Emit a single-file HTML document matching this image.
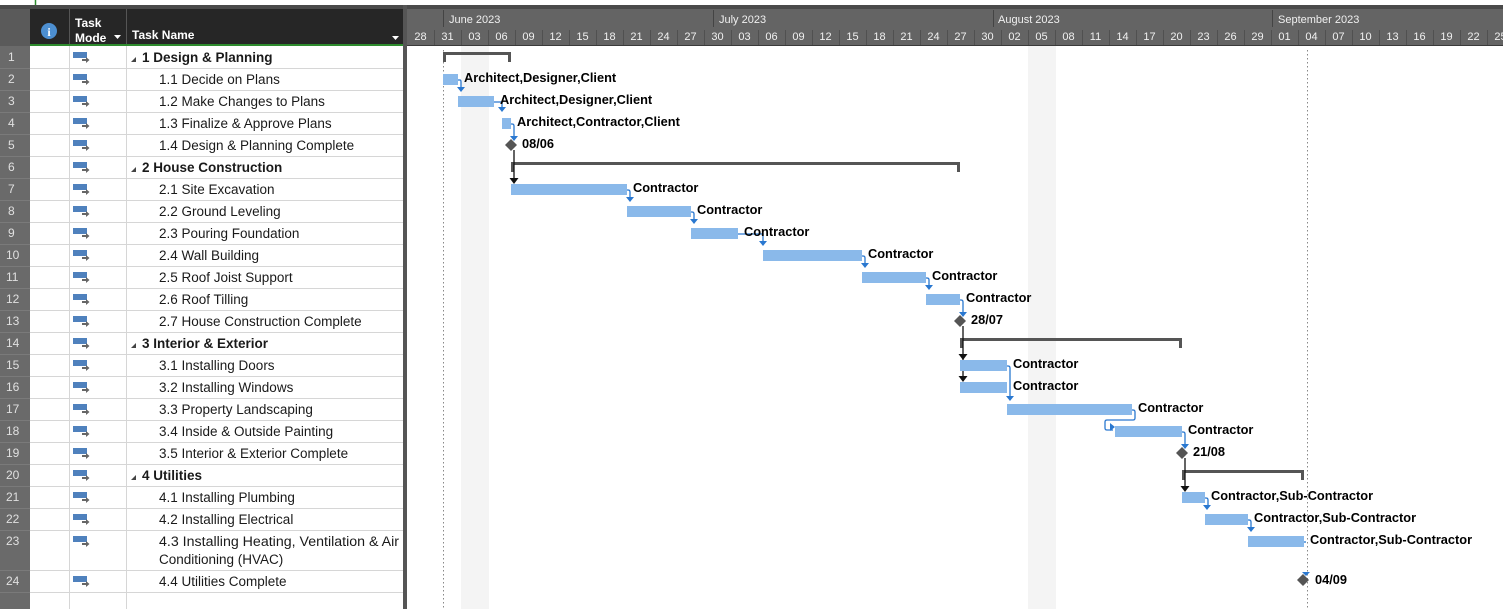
<!DOCTYPE html>
<html><head><meta charset="utf-8"><style>
html,body{margin:0;padding:0;background:#fff;}
svg{display:block;font-family:"Liberation Sans",sans-serif;}
.g{font-size:13.5px;fill:#1a1a1a;}
.b{font-weight:bold;}
.rn{font-size:12px;fill:#e0e0e0;}
.ts{font-size:11px;fill:#f0f0f0;}
.lb{font-size:12.8px;font-weight:bold;fill:#000;}
.bar{fill:#8ab9ea;}
.c{stroke:#2a78d0;stroke-width:1.3;fill:none;}
.ca{fill:#2a78d0;}
.k{stroke:#111;stroke-width:1.3;fill:none;}
</style></head><body>
<svg width="1503" height="609" viewBox="0 0 1503 609" xmlns="http://www.w3.org/2000/svg">
<rect x="0" y="0" width="1503" height="609" fill="#fff"/>
<line x1="35.5" y1="0" x2="35.5" y2="6" stroke="#2e8b2e" stroke-width="1.5"/>
<rect x="0" y="5" width="1503" height="4" fill="#4a4a4a"/>
<rect x="0" y="9" width="406" height="37" fill="#262626"/>
<rect x="0" y="9" width="30" height="37" fill="#5a5a5a"/>
<line x1="69.5" y1="9" x2="69.5" y2="46" stroke="#555"/>
<line x1="126.5" y1="9" x2="126.5" y2="46" stroke="#555"/>
<line x1="30" y1="45" x2="403" y2="45" stroke="#2e8b2e" stroke-width="2"/>
<circle cx="49" cy="31" r="8" fill="#4d8fd1"/>
<text x="49" y="36" font-size="12" font-weight="bold" fill="#fff" text-anchor="middle" font-family="Liberation Serif">i</text>
<text x="75" y="27" font-size="12" font-weight="bold" fill="#fff">Task</text>
<text x="75" y="42" font-size="12" font-weight="bold" fill="#fff">Mode</text>
<path d="M114 35 l7 0 l-3.5 4z" fill="#fff"/>
<text x="132" y="39" font-size="12" font-weight="bold" fill="#fff">Task Name</text>
<path d="M392 36 l7 0 l-3.5 4z" fill="#fff"/>
<rect x="0" y="46" width="30" height="563" fill="#6a6a6a"/>
<g stroke="#d6d6d6" stroke-width="1">
<line x1="30" y1="68.5" x2="403" y2="68.5"/><line x1="30" y1="90.5" x2="403" y2="90.5"/>
<line x1="30" y1="112.5" x2="403" y2="112.5"/><line x1="30" y1="134.5" x2="403" y2="134.5"/>
<line x1="30" y1="156.5" x2="403" y2="156.5"/><line x1="30" y1="178.5" x2="403" y2="178.5"/>
<line x1="30" y1="200.5" x2="403" y2="200.5"/><line x1="30" y1="222.5" x2="403" y2="222.5"/>
<line x1="30" y1="244.5" x2="403" y2="244.5"/><line x1="30" y1="266.5" x2="403" y2="266.5"/>
<line x1="30" y1="288.5" x2="403" y2="288.5"/><line x1="30" y1="310.5" x2="403" y2="310.5"/>
<line x1="30" y1="332.5" x2="403" y2="332.5"/><line x1="30" y1="354.5" x2="403" y2="354.5"/>
<line x1="30" y1="376.5" x2="403" y2="376.5"/><line x1="30" y1="398.5" x2="403" y2="398.5"/>
<line x1="30" y1="420.5" x2="403" y2="420.5"/><line x1="30" y1="442.5" x2="403" y2="442.5"/>
<line x1="30" y1="464.5" x2="403" y2="464.5"/><line x1="30" y1="486.5" x2="403" y2="486.5"/>
<line x1="30" y1="508.5" x2="403" y2="508.5"/><line x1="30" y1="530.5" x2="403" y2="530.5"/>
<line x1="30" y1="570.5" x2="403" y2="570.5"/><line x1="30" y1="592.5" x2="403" y2="592.5"/>
<line x1="69.5" y1="46" x2="69.5" y2="609"/><line x1="126.5" y1="46" x2="126.5" y2="609"/>
</g>
<g stroke="#7a7a7a" stroke-width="1">
<line x1="0" y1="68.5" x2="30" y2="68.5"/><line x1="0" y1="90.5" x2="30" y2="90.5"/><line x1="0" y1="112.5" x2="30" y2="112.5"/><line x1="0" y1="134.5" x2="30" y2="134.5"/><line x1="0" y1="156.5" x2="30" y2="156.5"/><line x1="0" y1="178.5" x2="30" y2="178.5"/><line x1="0" y1="200.5" x2="30" y2="200.5"/><line x1="0" y1="222.5" x2="30" y2="222.5"/><line x1="0" y1="244.5" x2="30" y2="244.5"/><line x1="0" y1="266.5" x2="30" y2="266.5"/><line x1="0" y1="288.5" x2="30" y2="288.5"/><line x1="0" y1="310.5" x2="30" y2="310.5"/><line x1="0" y1="332.5" x2="30" y2="332.5"/><line x1="0" y1="354.5" x2="30" y2="354.5"/><line x1="0" y1="376.5" x2="30" y2="376.5"/><line x1="0" y1="398.5" x2="30" y2="398.5"/><line x1="0" y1="420.5" x2="30" y2="420.5"/><line x1="0" y1="442.5" x2="30" y2="442.5"/><line x1="0" y1="464.5" x2="30" y2="464.5"/><line x1="0" y1="486.5" x2="30" y2="486.5"/><line x1="0" y1="508.5" x2="30" y2="508.5"/><line x1="0" y1="530.5" x2="30" y2="530.5"/><line x1="0" y1="570.5" x2="30" y2="570.5"/><line x1="0" y1="592.5" x2="30" y2="592.5"/>
</g>
<g class="rn">
<text x="8" y="61">1</text><text x="8" y="83">2</text><text x="8" y="105">3</text><text x="8" y="127">4</text><text x="8" y="149">5</text><text x="8" y="171">6</text><text x="8" y="193">7</text><text x="8" y="215">8</text><text x="8" y="237">9</text><text x="6" y="259">10</text><text x="6" y="281">11</text><text x="6" y="303">12</text><text x="6" y="325">13</text><text x="6" y="347">14</text><text x="6" y="369">15</text><text x="6" y="391">16</text><text x="6" y="413">17</text><text x="6" y="435">18</text><text x="6" y="457">19</text><text x="6" y="479">20</text><text x="6" y="501">21</text><text x="6" y="523">22</text><text x="6" y="545">23</text><text x="6" y="585">24</text>
</g>
<defs><g id="tm"><rect x="0" y="0" width="14" height="6" fill="#4f81bd"/><path d="M9 7 h4 v-2 l3.5 3 l-3.5 3 v-2 h-4z" fill="#666"/></g></defs>
<g>
<use href="#tm" x="73" y="52"/><use href="#tm" x="73" y="74"/><use href="#tm" x="73" y="96"/><use href="#tm" x="73" y="118"/><use href="#tm" x="73" y="140"/><use href="#tm" x="73" y="162"/><use href="#tm" x="73" y="184"/><use href="#tm" x="73" y="206"/><use href="#tm" x="73" y="228"/><use href="#tm" x="73" y="250"/><use href="#tm" x="73" y="272"/><use href="#tm" x="73" y="294"/><use href="#tm" x="73" y="316"/><use href="#tm" x="73" y="338"/><use href="#tm" x="73" y="360"/><use href="#tm" x="73" y="382"/><use href="#tm" x="73" y="404"/><use href="#tm" x="73" y="426"/><use href="#tm" x="73" y="448"/><use href="#tm" x="73" y="470"/><use href="#tm" x="73" y="492"/><use href="#tm" x="73" y="514"/><use href="#tm" x="73" y="536"/><use href="#tm" x="73" y="576"/>
</g>
<g class="g">
<path d="M131 62 l5 -5 v5z" fill="#444"/><text x="142" y="62" class="b">1 Design &amp; Planning</text>
<text x="159" y="84">1.1 Decide on Plans</text>
<text x="159" y="106">1.2 Make Changes to Plans</text>
<text x="159" y="128">1.3 Finalize &amp; Approve Plans</text>
<text x="159" y="150">1.4 Design &amp; Planning Complete</text>
<path d="M131 172 l5 -5 v5z" fill="#444"/><text x="142" y="172" class="b">2 House Construction</text>
<text x="159" y="194">2.1 Site Excavation</text>
<text x="159" y="216">2.2 Ground Leveling</text>
<text x="159" y="238">2.3 Pouring Foundation</text>
<text x="159" y="260">2.4 Wall Building</text>
<text x="159" y="282">2.5 Roof Joist Support</text>
<text x="159" y="304">2.6 Roof Tilling</text>
<text x="159" y="326">2.7 House Construction Complete</text>
<path d="M131 348 l5 -5 v5z" fill="#444"/><text x="142" y="348" class="b">3 Interior &amp; Exterior</text>
<text x="159" y="370">3.1 Installing Doors</text>
<text x="159" y="392">3.2 Installing Windows</text>
<text x="159" y="414">3.3 Property Landscaping</text>
<text x="159" y="436">3.4 Inside &amp; Outside Painting</text>
<text x="159" y="458">3.5 Interior &amp; Exterior Complete</text>
<path d="M131 480 l5 -5 v5z" fill="#444"/><text x="142" y="480" class="b">4 Utilities</text>
<text x="159" y="502">4.1 Installing Plumbing</text>
<text x="159" y="524">4.2 Installing Electrical</text>
<text x="159" y="546" textLength="240" lengthAdjust="spacingAndGlyphs">4.3 Installing Heating, Ventilation &amp; Air</text>
<text x="159" y="564">Conditioning (HVAC)</text>
<text x="159" y="586">4.4 Utilities Complete</text>
</g>
<rect x="403" y="5" width="4" height="604" fill="#555"/>
<rect x="407" y="9" width="1096" height="37" fill="#646464"/>
<line x1="407" y1="45.5" x2="1503" y2="45.5" stroke="#3a3a3a"/>
<g stroke="#444"><line x1="443.5" y1="10" x2="443.5" y2="27"/><line x1="713.5" y1="10" x2="713.5" y2="27"/><line x1="993.5" y1="10" x2="993.5" y2="27"/><line x1="1272.5" y1="10" x2="1272.5" y2="27"/></g>
<g class="ts">
<text x="449" y="23">June 2023</text><text x="719" y="23">July 2023</text><text x="998" y="23">August 2023</text><text x="1278" y="23">September 2023</text>
</g>
<g stroke="#505050">
<line x1="434.5" y1="30" x2="434.5" y2="45"/><line x1="461.5" y1="30" x2="461.5" y2="45"/><line x1="488.5" y1="30" x2="488.5" y2="45"/><line x1="515.5" y1="30" x2="515.5" y2="45"/><line x1="542.5" y1="30" x2="542.5" y2="45"/><line x1="569.5" y1="30" x2="569.5" y2="45"/><line x1="596.5" y1="30" x2="596.5" y2="45"/><line x1="623.5" y1="30" x2="623.5" y2="45"/><line x1="650.5" y1="30" x2="650.5" y2="45"/><line x1="677.5" y1="30" x2="677.5" y2="45"/><line x1="704.5" y1="30" x2="704.5" y2="45"/><line x1="731.5" y1="30" x2="731.5" y2="45"/><line x1="758.5" y1="30" x2="758.5" y2="45"/><line x1="785.5" y1="30" x2="785.5" y2="45"/><line x1="812.5" y1="30" x2="812.5" y2="45"/><line x1="839.5" y1="30" x2="839.5" y2="45"/><line x1="866.5" y1="30" x2="866.5" y2="45"/><line x1="893.5" y1="30" x2="893.5" y2="45"/><line x1="920.5" y1="30" x2="920.5" y2="45"/><line x1="947.5" y1="30" x2="947.5" y2="45"/><line x1="974.5" y1="30" x2="974.5" y2="45"/><line x1="1001.5" y1="30" x2="1001.5" y2="45"/><line x1="1028.5" y1="30" x2="1028.5" y2="45"/><line x1="1055.5" y1="30" x2="1055.5" y2="45"/><line x1="1082.5" y1="30" x2="1082.5" y2="45"/><line x1="1109.5" y1="30" x2="1109.5" y2="45"/><line x1="1136.5" y1="30" x2="1136.5" y2="45"/><line x1="1163.5" y1="30" x2="1163.5" y2="45"/><line x1="1190.5" y1="30" x2="1190.5" y2="45"/><line x1="1217.5" y1="30" x2="1217.5" y2="45"/><line x1="1244.5" y1="30" x2="1244.5" y2="45"/><line x1="1271.5" y1="30" x2="1271.5" y2="45"/><line x1="1298.5" y1="30" x2="1298.5" y2="45"/><line x1="1325.5" y1="30" x2="1325.5" y2="45"/><line x1="1352.5" y1="30" x2="1352.5" y2="45"/><line x1="1379.5" y1="30" x2="1379.5" y2="45"/><line x1="1406.5" y1="30" x2="1406.5" y2="45"/><line x1="1433.5" y1="30" x2="1433.5" y2="45"/><line x1="1460.5" y1="30" x2="1460.5" y2="45"/><line x1="1487.5" y1="30" x2="1487.5" y2="45"/>
</g>
<g class="ts" text-anchor="middle">
<text x="420.5" y="40">28</text><text x="447.5" y="40">31</text><text x="474.5" y="40">03</text><text x="501.5" y="40">06</text><text x="528.5" y="40">09</text><text x="555.5" y="40">12</text><text x="582.5" y="40">15</text><text x="609.5" y="40">18</text><text x="636.5" y="40">21</text><text x="663.5" y="40">24</text><text x="690.5" y="40">27</text><text x="717.5" y="40">30</text><text x="744.5" y="40">03</text><text x="771.5" y="40">06</text><text x="798.5" y="40">09</text><text x="825.5" y="40">12</text><text x="852.5" y="40">15</text><text x="879.5" y="40">18</text><text x="906.5" y="40">21</text><text x="933.5" y="40">24</text><text x="960.5" y="40">27</text><text x="987.5" y="40">30</text><text x="1014.5" y="40">02</text><text x="1041.5" y="40">05</text><text x="1068.5" y="40">08</text><text x="1095.5" y="40">11</text><text x="1122.5" y="40">14</text><text x="1149.5" y="40">17</text><text x="1176.5" y="40">20</text><text x="1203.5" y="40">23</text><text x="1230.5" y="40">26</text><text x="1257.5" y="40">29</text><text x="1284.5" y="40">01</text><text x="1311.5" y="40">04</text><text x="1338.5" y="40">07</text><text x="1365.5" y="40">10</text><text x="1392.5" y="40">13</text><text x="1419.5" y="40">16</text><text x="1446.5" y="40">19</text><text x="1473.5" y="40">22</text><text x="1500.5" y="40">25</text>
</g>
<rect x="461" y="46" width="28" height="563" fill="#f4f4f4"/>
<rect x="1028" y="46" width="28" height="563" fill="#f4f4f4"/>
<line x1="443.5" y1="50" x2="443.5" y2="609" stroke="#888" stroke-dasharray="1.5,2.5"/>
<line x1="1307.5" y1="50" x2="1307.5" y2="609" stroke="#888" stroke-dasharray="1.5,2.5"/>
<g fill="#555">
<rect x="443" y="52" width="68" height="3"/><rect x="443" y="52" width="3" height="10"/><rect x="508" y="52" width="3" height="10"/>
<rect x="511" y="162" width="449" height="3"/><rect x="511" y="162" width="3" height="10"/><rect x="957" y="162" width="3" height="10"/>
<rect x="960" y="338" width="222" height="3"/><rect x="960" y="338" width="3" height="10"/><rect x="1179" y="338" width="3" height="10"/>
<rect x="1182" y="470" width="122" height="3"/><rect x="1182" y="470" width="3" height="10"/><rect x="1301" y="470" width="3" height="10"/>
</g>
<g class="k">
<line x1="514" y1="150" x2="514" y2="180"/>
<line x1="963" y1="326" x2="963" y2="356"/>
<line x1="963" y1="356" x2="963" y2="378"/>
<line x1="1185" y1="458" x2="1185" y2="488"/>
</g>
<g fill="#111">
<path d="M509.5 178 h9 l-4.5 6z"/><path d="M958.5 354 h9 l-4.5 6z"/><path d="M958.5 376 h9 l-4.5 6z"/><path d="M1180.5 486 h9 l-4.5 6z"/>
</g>
<g class="c">
<path d="M458 80 h2 q1 0 1 2 v7"/>
<path d="M494 102 h8 v7"/>
<path d="M511 124 h1 q2 0 2 2 v12"/>
<path d="M627 190 h1 q2 0 2 2 v7"/>
<path d="M691 212 h1 q2 0 2 2 v7"/>
<path d="M738 234 h25 v9"/>
<path d="M862 256 h1 q2 0 2 2 v7"/>
<path d="M926 278 h1 q2 0 2 2 v7"/>
<path d="M960 300 h1 q2 0 2 2 v12"/>
<path d="M1007 366 h1 q2 0 2 2 v30"/>
<path d="M1132 410 h1 q2 0 2 2 v6 q0 2 -2 2 h-26 q-2 0 -2 2 v6 q0 2 2 2 h6"/>
<path d="M1182 432 h1 q2 0 2 2 v12"/>
<path d="M1205 498 h1 q2 0 2 2 v7"/>
<path d="M1248 520 h1 q2 0 2 2 v7"/>
<path d="M1304 542 h2"/>
</g>
<g class="ca">
<path d="M457 87 h8 l-4 5z"/><path d="M498 107 h8 l-4 5z"/><path d="M510 136 h8 l-4 5z"/>
<path d="M626 197 h8 l-4 5z"/><path d="M690 219 h8 l-4 5z"/><path d="M759 241 h8 l-4 5z"/>
<path d="M861 263 h8 l-4 5z"/><path d="M925 285 h8 l-4 5z"/><path d="M959 312 h8 l-4 5z"/>
<path d="M1006 396 h8 l-4 5z"/><path d="M1110 423 v8 l5 -4z"/><path d="M1181 444 h8 l-4 5z"/>
<path d="M1203 505 h8 l-4 5z"/><path d="M1247 527 h8 l-4 5z"/><path d="M1302 572 h8 l-4 4z"/>
</g>
<g class="bar">
<rect x="443" y="74" width="15" height="11"/>
<rect x="458" y="96" width="36" height="11"/>
<rect x="502" y="118" width="9" height="11"/>
<rect x="511" y="184" width="116" height="11"/>
<rect x="627" y="206" width="64" height="11"/>
<rect x="691" y="228" width="47" height="11"/>
<rect x="763" y="250" width="99" height="11"/>
<rect x="862" y="272" width="64" height="11"/>
<rect x="926" y="294" width="34" height="11"/>
<rect x="960" y="360" width="47" height="11"/>
<rect x="960" y="382" width="47" height="11"/>
<rect x="1007" y="404" width="125" height="11"/>
<rect x="1115" y="426" width="67" height="11"/>
<rect x="1182" y="492" width="23" height="11"/>
<rect x="1205" y="514" width="43" height="11"/>
<rect x="1248" y="536" width="56" height="11"/>
</g>
<g fill="#555">
<path d="M511 139 l6 6 l-6 6 l-6 -6z"/>
<path d="M960 315 l6 6 l-6 6 l-6 -6z"/>
<path d="M1182 447 l6 6 l-6 6 l-6 -6z"/>
<path d="M1303 574 l6 6 l-6 6 l-6 -6z"/>
</g>
<g class="lb">
<text x="464" y="82">Architect,Designer,Client</text>
<text x="500" y="104">Architect,Designer,Client</text>
<text x="517" y="126">Architect,Contractor,Client</text>
<text x="522" y="148">08/06</text>
<text x="633" y="192">Contractor</text>
<text x="697" y="214">Contractor</text>
<text x="744" y="236">Contractor</text>
<text x="868" y="258">Contractor</text>
<text x="932" y="280">Contractor</text>
<text x="966" y="302">Contractor</text>
<text x="971" y="324">28/07</text>
<text x="1013" y="368">Contractor</text>
<text x="1013" y="390">Contractor</text>
<text x="1138" y="412">Contractor</text>
<text x="1188" y="434">Contractor</text>
<text x="1193" y="456">21/08</text>
<text x="1211" y="500">Contractor,Sub-Contractor</text>
<text x="1254" y="522">Contractor,Sub-Contractor</text>
<text x="1310" y="544">Contractor,Sub-Contractor</text>
<text x="1315" y="584">04/09</text>
</g>
</svg>
</body></html>
